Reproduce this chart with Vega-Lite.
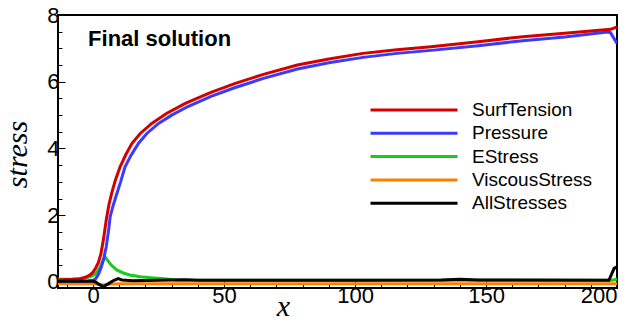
{
  "$schema": "https://vega.github.io/schema/vega-lite/v6.json",
  "width": 559,
  "height": 273,
  "autosize": {"type": "none"},
  "padding": {"left": 58, "top": 15, "right": 14, "bottom": 32},
  "config": {"view": {"stroke": "black", "strokeWidth": 2}, "font": "Liberation Sans"},
  "datasets": {
    "label": [{"x": -1.9, "y": 7.07, "t": "Final solution"}],
    "lines": [
      {"s": "ViscousStress", "x": -13.4, "v": -0.05},
      {"s": "ViscousStress", "x": 0, "v": -0.05},
      {"s": "ViscousStress", "x": 2, "v": -0.07},
      {"s": "ViscousStress", "x": 4, "v": -0.09},
      {"s": "ViscousStress", "x": 6, "v": -0.07},
      {"s": "ViscousStress", "x": 10, "v": -0.05},
      {"s": "ViscousStress", "x": 200, "v": -0.05},

      {"s": "EStress", "x": -13.4, "v": 0.08},
      {"s": "EStress", "x": -6, "v": 0.09},
      {"s": "EStress", "x": -3, "v": 0.11},
      {"s": "EStress", "x": -1, "v": 0.16},
      {"s": "EStress", "x": 0.5, "v": 0.22},
      {"s": "EStress", "x": 1.5, "v": 0.3},
      {"s": "EStress", "x": 2.7, "v": 0.45},
      {"s": "EStress", "x": 3.8, "v": 0.65},
      {"s": "EStress", "x": 4.6, "v": 0.75},
      {"s": "EStress", "x": 5.5, "v": 0.65},
      {"s": "EStress", "x": 7, "v": 0.5},
      {"s": "EStress", "x": 9, "v": 0.36},
      {"s": "EStress", "x": 11.5, "v": 0.27},
      {"s": "EStress", "x": 14, "v": 0.21},
      {"s": "EStress", "x": 18, "v": 0.16},
      {"s": "EStress", "x": 22, "v": 0.13},
      {"s": "EStress", "x": 27, "v": 0.1},
      {"s": "EStress", "x": 32, "v": 0.06},
      {"s": "EStress", "x": 100, "v": 0.05},
      {"s": "EStress", "x": 198, "v": 0.05},
      {"s": "EStress", "x": 200, "v": 0.08},

      {"s": "Pressure", "x": -13.4, "v": 0.02},
      {"s": "Pressure", "x": -2, "v": 0.03},
      {"s": "Pressure", "x": 0, "v": 0.05},
      {"s": "Pressure", "x": 1, "v": 0.1},
      {"s": "Pressure", "x": 2, "v": 0.22},
      {"s": "Pressure", "x": 3, "v": 0.42},
      {"s": "Pressure", "x": 4, "v": 0.68},
      {"s": "Pressure", "x": 5, "v": 1.05},
      {"s": "Pressure", "x": 6, "v": 1.6},
      {"s": "Pressure", "x": 6.5, "v": 1.95},
      {"s": "Pressure", "x": 7.5, "v": 2.25},
      {"s": "Pressure", "x": 9.1, "v": 2.66},
      {"s": "Pressure", "x": 10.5, "v": 3.0},
      {"s": "Pressure", "x": 12.2, "v": 3.45},
      {"s": "Pressure", "x": 14.5, "v": 3.8},
      {"s": "Pressure", "x": 17.3, "v": 4.15},
      {"s": "Pressure", "x": 20.5, "v": 4.45},
      {"s": "Pressure", "x": 25, "v": 4.75},
      {"s": "Pressure", "x": 30, "v": 5.0},
      {"s": "Pressure", "x": 36, "v": 5.25},
      {"s": "Pressure", "x": 45, "v": 5.56},
      {"s": "Pressure", "x": 54, "v": 5.82},
      {"s": "Pressure", "x": 65, "v": 6.1},
      {"s": "Pressure", "x": 78, "v": 6.38},
      {"s": "Pressure", "x": 90, "v": 6.57},
      {"s": "Pressure", "x": 103, "v": 6.73},
      {"s": "Pressure", "x": 116, "v": 6.85},
      {"s": "Pressure", "x": 129, "v": 6.94},
      {"s": "Pressure", "x": 147, "v": 7.08},
      {"s": "Pressure", "x": 164, "v": 7.23},
      {"s": "Pressure", "x": 180, "v": 7.34},
      {"s": "Pressure", "x": 196.4, "v": 7.49},
      {"s": "Pressure", "x": 197.5, "v": 7.47},
      {"s": "Pressure", "x": 200, "v": 7.15},

      {"s": "SurfTension", "x": -13.4, "v": 0.06},
      {"s": "SurfTension", "x": -8, "v": 0.08},
      {"s": "SurfTension", "x": -5, "v": 0.1},
      {"s": "SurfTension", "x": -3, "v": 0.14},
      {"s": "SurfTension", "x": -2, "v": 0.18},
      {"s": "SurfTension", "x": -1, "v": 0.22},
      {"s": "SurfTension", "x": 0, "v": 0.3},
      {"s": "SurfTension", "x": 1, "v": 0.42},
      {"s": "SurfTension", "x": 2, "v": 0.58},
      {"s": "SurfTension", "x": 3, "v": 0.85},
      {"s": "SurfTension", "x": 4, "v": 1.3},
      {"s": "SurfTension", "x": 5, "v": 1.85},
      {"s": "SurfTension", "x": 6, "v": 2.3},
      {"s": "SurfTension", "x": 7.1, "v": 2.66},
      {"s": "SurfTension", "x": 8.5, "v": 3.05},
      {"s": "SurfTension", "x": 10.3, "v": 3.45},
      {"s": "SurfTension", "x": 12.5, "v": 3.82},
      {"s": "SurfTension", "x": 14.8, "v": 4.15},
      {"s": "SurfTension", "x": 18, "v": 4.45},
      {"s": "SurfTension", "x": 22.4, "v": 4.75},
      {"s": "SurfTension", "x": 28, "v": 5.05},
      {"s": "SurfTension", "x": 35.2, "v": 5.35},
      {"s": "SurfTension", "x": 45, "v": 5.68},
      {"s": "SurfTension", "x": 54.3, "v": 5.95},
      {"s": "SurfTension", "x": 65, "v": 6.22},
      {"s": "SurfTension", "x": 78, "v": 6.5},
      {"s": "SurfTension", "x": 90, "v": 6.68},
      {"s": "SurfTension", "x": 103, "v": 6.85},
      {"s": "SurfTension", "x": 116, "v": 6.96},
      {"s": "SurfTension", "x": 129, "v": 7.05},
      {"s": "SurfTension", "x": 147, "v": 7.2},
      {"s": "SurfTension", "x": 164, "v": 7.35},
      {"s": "SurfTension", "x": 180, "v": 7.45},
      {"s": "SurfTension", "x": 197.6, "v": 7.57},
      {"s": "SurfTension", "x": 200, "v": 7.64},

      {"s": "AllStresses", "x": -13.4, "v": 0.02},
      {"s": "AllStresses", "x": 0, "v": 0.02},
      {"s": "AllStresses", "x": 1, "v": 0.0},
      {"s": "AllStresses", "x": 2, "v": -0.06},
      {"s": "AllStresses", "x": 3.9, "v": -0.14},
      {"s": "AllStresses", "x": 5, "v": -0.09},
      {"s": "AllStresses", "x": 6.5, "v": -0.02},
      {"s": "AllStresses", "x": 8, "v": 0.05},
      {"s": "AllStresses", "x": 9.6, "v": 0.1},
      {"s": "AllStresses", "x": 11, "v": 0.06},
      {"s": "AllStresses", "x": 15, "v": 0.04},
      {"s": "AllStresses", "x": 25, "v": 0.05},
      {"s": "AllStresses", "x": 35, "v": 0.07},
      {"s": "AllStresses", "x": 40, "v": 0.05},
      {"s": "AllStresses", "x": 60, "v": 0.05},
      {"s": "AllStresses", "x": 100, "v": 0.05},
      {"s": "AllStresses", "x": 133, "v": 0.06},
      {"s": "AllStresses", "x": 140, "v": 0.08},
      {"s": "AllStresses", "x": 147, "v": 0.06},
      {"s": "AllStresses", "x": 196.9, "v": 0.05},
      {"s": "AllStresses", "x": 198.9, "v": 0.41},
      {"s": "AllStresses", "x": 200, "v": 0.45}
    ]
  },
  "layer": [
    {
      "data": {"name": "lines"},
      "mark": {"type": "line", "strokeWidth": 3, "clip": true},
      "encoding": {
        "x": {
          "field": "x", "type": "quantitative",
          "scale": {"domain": [-13.4, 200], "nice": false, "zero": false},
          "axis": {
            "orient": "bottom", "values": [0, 50, 100, 150, 200], "format": "d",
            "tickSize": -7, "tickColor": "black", "tickWidth": 1, "domain": false, "grid": false,
            "labelFontSize": 22, "labelColor": "black", "labelPadding": 4, "labelFont": "Liberation Sans",
            "title": "x", "titleFont": "Liberation Serif", "titleFontStyle": "italic", "titleFontWeight": "normal",
            "titleFontSize": 30, "titleColor": "black", "titleX": 225, "titleY": 27, "titleBaseline": "alphabetic", "titleAlign": "center"
          }
        },
        "y": {
          "field": "v", "type": "quantitative",
          "scale": {"domain": [-0.18, 8], "nice": false, "zero": false},
          "axis": {
            "orient": "left", "values": [0, 2, 4, 6, 8],
            "tickSize": -7, "tickColor": "black", "tickWidth": 1, "domain": false, "grid": false,
            "labelFontSize": 22, "labelColor": "black", "labelPadding": 6, "labelFont": "Liberation Sans",
            "title": "stress", "titleFont": "Liberation Serif", "titleFontStyle": "italic", "titleFontWeight": "normal",
            "titleFontSize": 30, "titleColor": "black", "titleX": -41, "titleY": 139, "titleAngle": -90,
            "titleBaseline": "middle", "titleAlign": "center"
          }
        },
        "color": {
          "field": "s", "type": "nominal",
          "scale": {
            "domain": ["SurfTension", "Pressure", "EStress", "ViscousStress", "AllStresses"],
            "range": ["#d40000", "#3a3aff", "#18cc18", "#ff8000", "#000000"]
          },
          "legend": {
            "orient": "none", "legendX": 311, "legendY": 85, "title": null,
            "symbolType": "stroke", "symbolSize": 7569, "symbolStrokeWidth": 3, "clipHeight": 20,
            "rowPadding": 3.3, "labelFontSize": 19, "labelOffset": 13, "labelColor": "black",
            "labelFont": "Liberation Sans", "padding": 0
          }
        }
      }
    },
    {
      "data": {"name": "label"},
      "mark": {"type": "text", "align": "left", "baseline": "alphabetic", "fontSize": 22, "fontWeight": "bold", "font": "Liberation Sans", "color": "black"},
      "encoding": {
        "x": {
          "field": "x", "type": "quantitative",
          "axis": {
            "orient": "bottom", "values": [-10, 10, 20, 30, 40, 60, 70, 80, 90, 110, 120, 130, 140, 160, 170, 180, 190],
            "labels": false, "tickSize": -4, "tickColor": "black", "tickWidth": 1, "domain": false, "grid": false, "title": null
          }
        },
        "y": {
          "field": "y", "type": "quantitative",
          "axis": {
            "orient": "left", "values": [0.5, 1, 1.5, 2.5, 3, 3.5, 4.5, 5, 5.5, 6.5, 7, 7.5],
            "labels": false, "tickSize": -4, "tickColor": "black", "tickWidth": 1, "domain": false, "grid": false, "title": null
          }
        },
        "text": {"field": "t"}
      }
    }
  ],
  "resolve": {"axis": {"x": "independent", "y": "independent"}}
}
